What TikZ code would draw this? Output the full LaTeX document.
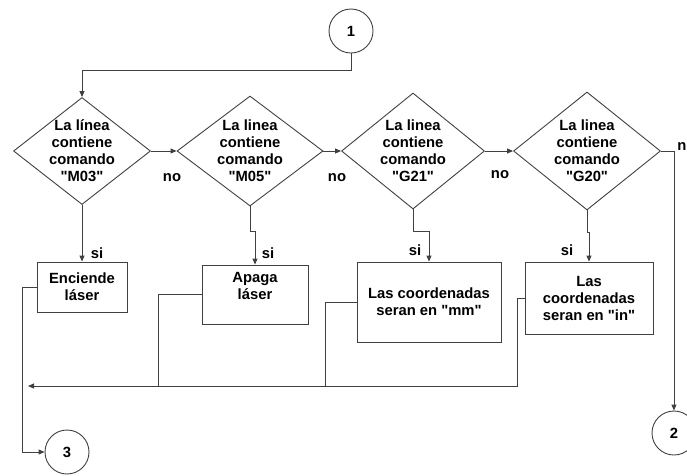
\documentclass[tikz,border=0pt]{standalone}
\usepackage{fontspec}
\setmainfont{Liberation Sans}[Ligatures=TeXOff]
\usepackage{xcolor}
\usetikzlibrary{
  positioning,
  calc,
  arrows.meta,
  shapes.geometric
}

\begin{document}
\begin{tikzpicture}[x=1pt,y=-1pt,
  line width=0.9pt, color=black!75,
  every node/.style={font=\bfseries\fontsize{14.8}{17}\selectfont, text=black},
  decision/.style={draw, shape=diamond, align=center, inner sep=-24pt},
  proceso/.style={draw, rectangle, align=center, inner sep=0pt},
  conector/.style={draw, circle, minimum size=44pt, inner sep=0pt},
  flecha/.style={-{Triangle[length=6pt,width=5pt]}}]
  \useasboundingbox (0,0) rectangle (687,475);

  % conectores de pagina
  \node[conector] (c1) at (351,31) {1};
  \node[conector] (c2) at (674,433) {2};
  \node[conector] (c3) at (67,452) {3};

  % decisiones
  \node[decision, minimum width=137pt, minimum height=107pt] (d1) at (82,151)
    {La línea\\contiene\\comando\\"M03"};
  \node[decision, minimum width=146pt, minimum height=110pt] (d2) at (250,151)
    {La linea\\contiene\\comando\\"M05"};
  \node[decision, minimum width=143pt, minimum height=116pt] (d3) at (413,151)
    {La linea\\contiene\\comando\\"G21"};
  \node[decision, minimum width=147pt, minimum height=118pt] (d4) at (587,151)
    {La linea\\contiene\\comando\\"G20"};

  % procesos
  \node[proceso, minimum width=90pt, minimum height=50pt] (b1) at (82,287)
    {Enciende\\láser};
  \node[proceso, minimum width=106pt, minimum height=59pt] (b2) at (255,294.5)
    {Apaga\\láser\\\mbox{}};
  \node[proceso, minimum width=144pt, minimum height=80pt] (b3) at (429,302)
    {Las coordenadas\\seran en "mm"};
  \node[proceso, minimum width=128pt, minimum height=72pt] (b4) at (589,298)
    {Las\\coordenadas\\seran en "in"};

  % puntos de la linea de retorno
  \coordinate (r4) at (517,298);
  \coordinate (fin) at (28,386);

  % entrada
  \draw[flecha] (c1.south) -- ++(0,17) -| (d1.north);

  % rama "no"
  \draw[flecha] (d1.east) -- (d2.west);
  \draw[flecha] (d2.east) -- (d3.west);
  \draw[flecha] (d3.east) -- (d4.west);
  \draw[flecha] (d4.east) -- ++(13,0) coordinate (n4) -- (n4 |- c2.north);
  \node at (172,178) (no1) {no};
  \node at (337,178) (no2) {no};
  \node at (500,175) (no3) {no};
  \node[anchor=north west, inner sep=0pt] at (677,142) (no4) {no};

  % rama "si"
  \draw[flecha] (d1.south) -- (b1.north);
  \draw[flecha] (d2.south) -- ++(0,25) -| (b2.north);
  \draw[flecha] (d3.south) -- ++(0,22) -| (b3.north);
  \draw[flecha] (d4.south) -- ++(0,22) -| (b4.north);
  \node at (97,253) (si1) {si};
  \node at (268,253) (si2) {si};
  \node at (415,250) (si3) {si};
  \node at (567,250) (si4) {si};

  % retorno
  \draw[flecha] (b4.west) -- (r4) |- (fin);
  \draw (b3.west) -| (325,386);
  \draw (b2.west) -| (158,386);
  \draw[flecha] (b1.west) -- ++(-14,0) |- (c3.west);
\end{tikzpicture}
\end{document}
